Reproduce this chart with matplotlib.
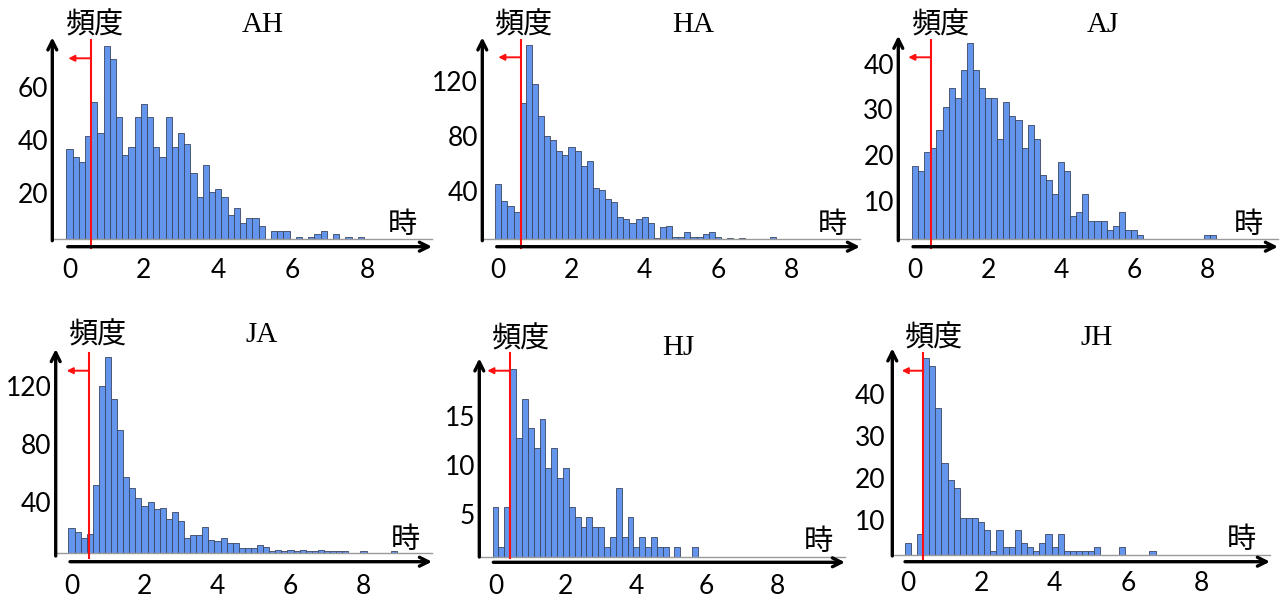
import matplotlib
matplotlib.use("Agg")
import matplotlib.pyplot as plt
from matplotlib.transforms import ScaledTranslation

W, H = 1284, 600
BIN_WIDTH = 1 / 6  # 10-minute bins, x in hours

titles = ["AH", "HA", "AJ", "JA", "HJ", "JH"]

counts_AH = [34, 31, 29, 39, 52, 40, 73, 68, 46, 32, 35, 46, 51, 46, 35, 31, 46, 35, 40, 36,
             25, 16, 28, 18, 19, 16, 9, 12, 6, 8, 8, 5, 0, 3, 3, 3, 0, 1, 0, 1,
             2, 3, 0, 2, 0, 1, 0, 1]
counts_HA = [40, 28, 24, 20, 99, 141, 113, 90, 75, 72, 64, 61, 67, 64, 53, 57, 37, 36, 29, 27,
             16, 15, 12, 15, 16, 12, 1, 9, 10, 2, 2, 5, 2, 2, 4, 5, 2, 0, 1, 0,
             1, 0, 0, 0, 0, 2]
counts_AJ = [16, 15, 19, 20, 24, 29, 33, 31, 37, 43, 37, 33, 31, 31, 22, 30, 27, 26, 20, 25,
             22, 14, 13, 10, 17, 15, 5, 6, 10, 4, 4, 4, 2, 3, 6, 2, 2, 1, 0, 0,
             0, 0, 0, 0, 0, 0, 0, 0, 1, 1]
counts_JA = [17, 14, 10, 13, 47, 115, 135, 106, 85, 52, 45, 38, 32, 35, 30, 31, 23, 28, 22, 10,
             12, 12, 18, 9, 8, 10, 7, 7, 3, 3, 3, 5, 4, 1, 2, 1, 2, 1, 2, 1,
             1, 2, 1, 1, 1, 1, 0, 0, 1, 0, 0, 0, 0, 1]
counts_HJ = [5, 1, 5, 19, 12, 16, 13, 11, 14, 9, 11, 8, 9, 5, 4, 3, 4, 3, 3, 1,
             2, 7, 2, 4, 1, 2, 1, 2, 1, 1, 0, 1, 0, 0, 1]
counts_JH = [3, 0, 5, 47, 45, 35, 22, 18, 16, 9, 9, 9, 8, 6, 1, 6, 2, 2, 6, 3,
             2, 1, 3, 5, 2, 5, 1, 1, 1, 1, 1, 2, 0, 0, 0, 2, 0, 0, 0, 0, 1]
all_counts = [counts_AH, counts_HA, counts_AJ, counts_JA, counts_HJ, counts_JH]

thresholds = [0.57, 0.61, 0.43, 0.48, 0.41, 0.42]
x_ticks = [0, 2, 4, 6, 8]
y_ticks = [[20, 40, 60], [40, 80, 120], [10, 20, 30, 40],
           [40, 80, 120], [5, 10, 15], [10, 20, 30, 40]]

# layout in reference pixels
layout = [
    dict(yax=52.3, top=38.3, ybot=240.7, xay=246.7, xa0=67.7, xa1=432, x0=69.5, ppx=37.2,
         base=239.3, ppy=2.65, ry0=40, ry1=248, ray=58.3, tip=68.3,
         tt=(263, 25), kj=(95, 25), tk=(402, 225), ylr=48, xly=270),
    dict(yax=482.3, top=38.3, ybot=240.7, xay=246.7, xa0=496.7, xa1=860, x0=498.3, ppx=36.6,
         base=239.3, ppy=1.375, ry0=40, ry1=248, ray=57.3, tip=498.3,
         tt=(693, 25), kj=(524, 25), tk=(832, 225), ylr=478, xly=270),
    dict(yax=898.3, top=36.7, ybot=240.7, xay=246.7, xa0=913, xa1=1278, x0=915.2, ppx=36.46,
         base=239.3, ppy=4.57, ry0=40, ry1=248, ray=57.3, tip=908.3,
         tt=(1103, 25), kj=(941, 25), tk=(1248, 225), ylr=894, xly=270),
    dict(yax=55.7, top=350, ybot=556, xay=561.7, xa0=70, xa1=432, x0=71.5, ppx=36.5,
         base=552.7, ppy=1.447, ry0=353, ry1=558, ray=370.7, tip=66.7,
         tt=(261.7, 335), kj=(98.3, 335), tk=(405, 540), ylr=51.7, xly=586.7),
    dict(yax=479.3, top=359.3, ybot=557, xay=562.3, xa0=493.3, xa1=845, x0=495.5, ppx=35.2,
         base=556.7, ppy=9.87, ry0=353, ry1=558, ray=370.7, tip=487.3,
         tt=(678.3, 348.3), kj=(521, 340), tk=(818.3, 541.7), ylr=475, xly=586.7),
    dict(yax=892.3, top=349.3, ybot=556, xay=561.7, xa0=905, xa1=1270, x0=907.8, ppx=36.7,
         base=555.3, ppy=4.2, ry0=353, ry1=559, ray=370.7, tip=901.7,
         tt=(1096.7, 338.3), kj=(934, 338.3), tk=(1241.7, 540), ylr=885.7, xly=583.3),
]

plt.rcParams['font.family'] = ['Lato', 'Noto Sans CJK JP', 'DejaVu Sans']

fig = plt.figure(figsize=(W / 100, H / 100), dpi=100)
fig.patch.set_facecolor('white')


def P(x, y):
    return (x / W, 1 - y / H)


PX2PT = 0.72

for i, name in enumerate(titles):
    L = layout[i]
    counts = all_counts[i]
    left, right, top, base = L['yax'], L['xa1'], L['top'], L['base']
    ax = fig.add_axes([left / W, 1 - base / H, (right - left) / W, (base - top) / H])
    ax.set_xlim((left - L['x0']) / L['ppx'], (right - L['x0']) / L['ppx'])
    ax.set_ylim(0, (base - top) / L['ppy'])
    ax.patch.set_alpha(0)
    centers = [k * BIN_WIDTH for k in range(len(counts))]
    ax.bar(centers, counts, width=BIN_WIDTH, align='center', color='#6495ed',
           edgecolor='#3a4560', linewidth=0.6, zorder=2)
    for s in ['top', 'left', 'right']:
        ax.spines[s].set_visible(False)
    ax.spines['bottom'].set_color('#9a9a9a')
    ax.spines['bottom'].set_linewidth(1.0)

    ax.set_xticks(x_ticks)
    ax.set_xticklabels([str(v) for v in x_ticks])
    ax.tick_params(axis='x', length=0, labelsize=19, pad=(L['xly'] - base) * PX2PT)
    for lab in ax.get_xticklabels():
        lab.set_va('center')
    ax.set_yticks(y_ticks[i])
    ax.set_yticklabels([str(v) for v in y_ticks[i]])
    ax.tick_params(axis='y', length=0, labelsize=19, pad=(left - L['ylr']) * PX2PT)
    off = ScaledTranslation(0, -7 / 100, fig.dpi_scale_trans)
    for lab in ax.get_yticklabels():
        lab.set_transform(lab.get_transform() + off)

    # threshold line
    span = base - top
    ax.axvline(thresholds[i], ymin=(base - L['ry1']) / span, ymax=(base - L['ry0']) / span,
               color='#ff1010', lw=1.5, clip_on=False, zorder=3)
    rx = L['x0'] + thresholds[i] * L['ppx']
    fig.add_artist(matplotlib.patches.FancyArrowPatch(
        P(rx, L['ray']), P(L['tip'], L['ray']), transform=fig.transFigure,
        arrowstyle='-|>', color='#ff1010', lw=1.4, mutation_scale=9, shrinkA=0, shrinkB=0))

    # black axis arrows
    fig.add_artist(matplotlib.patches.FancyArrowPatch(
        P(L['yax'], L['ybot']), P(L['yax'], L['top'] - 1), transform=fig.transFigure,
        arrowstyle='->', color='black', lw=2.4, mutation_scale=16, shrinkA=0, shrinkB=0))
    fig.add_artist(matplotlib.patches.FancyArrowPatch(
        P(L['xa0'], L['xay']), P(L['xa1'], L['xay']), transform=fig.transFigure,
        arrowstyle='->', color='black', lw=2.4, mutation_scale=16, shrinkA=0, shrinkB=0))

    fig.text(*P(*L['tt']), name, ha='center', va='center', fontsize=21,
             family=['Liberation Serif'])
    fig.text(*P(*L['kj']), '頻度', ha='center', va='center', fontsize=21,
             family=['Noto Sans CJK JP'])
    fig.text(*P(*L['tk']), '時', ha='center', va='center', fontsize=21,
             family=['Noto Sans CJK JP'])

fig.savefig('out.png', dpi=100)
